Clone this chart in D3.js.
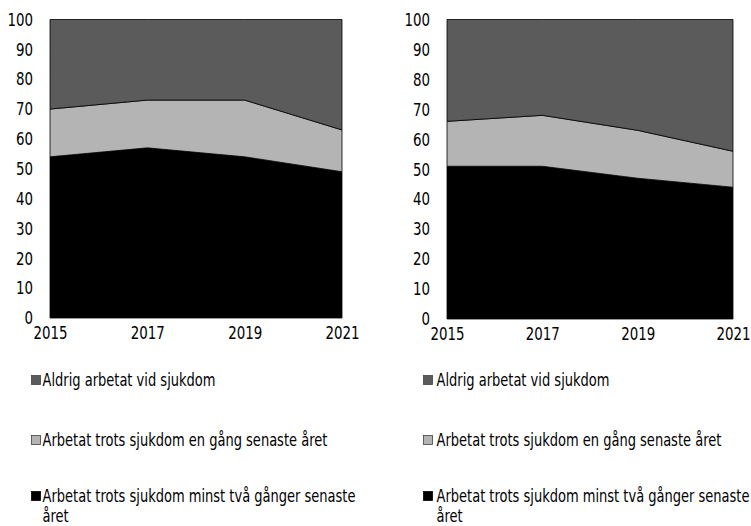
<!DOCTYPE html>
<html lang="sv">
  <head>
    <meta charset="UTF-8" />
    <title>Arbetat trots sjukdom</title>
    <script src="https://d3js.org/d3.v7.min.js"></script>
    <style>
      body { margin: 0; background: #fff; }
      svg text { font-family: "Liberation Sans Narrow", "DejaVu Sans Condensed", "DejaVu Sans", sans-serif; font-stretch: condensed; fill: #000; }
    </style>
  </head>
  <body>
    <div id="chart"></div>
    <script>
      // data
      const years = [2015, 2017, 2019, 2021];
      const seriesKeys = ["flera", "en", "aldrig"];
      const seriesNames = [
        ["Arbetat trots sjukdom minst två gånger senaste", "året"],
        ["Arbetat trots sjukdom en gång senaste året"],
        ["Aldrig arbetat vid sjukdom"]
      ];
      const seriesColors = ["#000000", "#b4b4b4", "#5b5b5b"];
      const yTicks = [0, 10, 20, 30, 40, 50, 60, 70, 80, 90, 100];

      // left panel
      const leftFlera = [54, 57, 54, 49];
      const leftEn = [16, 16, 19, 14];
      const leftAldrig = [30, 27, 27, 37];
      // right panel
      const rightFlera = [51, 51, 47, 44];
      const rightEn = [15, 17, 16, 12];
      const rightAldrig = [34, 32, 37, 44];

      const W = 751, H = 526;
      const svg = d3.select("#chart").append("svg")
        .attr("width", W).attr("height", H);

      // squeeze text horizontally so the fallback font looks condensed like the original
      function measure(str, size) {
        const t = svg.append("text").attr("font-size", size).text(str);
        const w = t.node().getComputedTextLength();
        t.remove();
        return w;
      }
      const tickSize = 18, legSize = 17;
      const tickK = Math.min(1, 34 / measure("2015", tickSize));
      const legK = Math.min(1, 313 / measure(seriesNames[0][0], legSize));
      function condense(sel, k) {
        sel.each(function () {
          const w = this.getComputedTextLength();
          d3.select(this).attr("textLength", w * k).attr("lengthAdjust", "spacingAndGlyphs");
        });
      }

      function rows(a, b, c) {
        return years.map((y, i) => ({ year: y, flera: a[i], en: b[i], aldrig: c[i] }));
      }

      const panels = [
        { data: rows(leftFlera, leftEn, leftAldrig), x0: 50, x1: 342, y0: 318, y1: 19.5, legX: 31.5, textX: 42.5 },
        { data: rows(rightFlera, rightEn, rightAldrig), x0: 447, x1: 733, y0: 319, y1: 19.5, legX: 423.5, textX: 436.5 }
      ];

      const stack = d3.stack().keys(seriesKeys);

      panels.forEach(p => {
        const x = d3.scaleLinear().domain([2015, 2021]).range([p.x0, p.x1]);
        const y = d3.scaleLinear().domain([0, 100]).range([p.y0, p.y1]);
        const g = svg.append("g");

        const area = d3.area()
          .x(d => x(d.data.year))
          .y0(d => y(d[0]))
          .y1(d => y(d[1]));

        g.selectAll("path.layer")
          .data(stack(p.data))
          .enter().append("path")
          .attr("class", "layer")
          .attr("d", area)
          .attr("fill", (d, i) => seriesColors[i])
          .attr("stroke", "#000")
          .attr("stroke-width", 0.8)
          .attr("stroke-linejoin", "round");

        // y axis labels
        const yAxis = d3.axisLeft(y).tickValues(yTicks).tickSize(0).tickPadding(17);
        const ya = g.append("g").attr("transform", `translate(${p.x0},0)`).call(yAxis);
        ya.select(".domain").remove();
        ya.attr("font-family", null).attr("font-size", null);
        ya.selectAll("text").attr("font-size", tickSize).call(condense, tickK);

        // x axis labels
        const xAxis = d3.axisBottom(x).tickValues(years).tickFormat(d3.format("d")).tickSize(0).tickPadding(8);
        const xa = g.append("g").attr("transform", `translate(0,${p.y0})`).call(xAxis);
        xa.select(".domain").remove();
        xa.attr("font-family", null).attr("font-size", null);
        xa.selectAll("text").attr("font-size", tickSize).call(condense, tickK);

        // legend (top to bottom: aldrig, en, flera)
        const legOrder = [2, 1, 0];
        const legY = [380, 440, 496];
        legOrder.forEach((k, j) => {
          const lg = g.append("g").attr("transform", `translate(0,${legY[j]})`);
          lg.append("rect")
            .attr("x", p.legX).attr("y", -4.5)
            .attr("width", 9).attr("height", 9)
            .attr("fill", seriesColors[k])
            .attr("stroke", k === 0 ? "#000" : "#404040")
            .attr("stroke-width", 0.8);
          seriesNames[k].forEach((line, li) => {
            lg.append("text")
              .attr("x", p.textX)
              .attr("y", li * 20)
              .attr("dy", "0.35em")
              .attr("font-size", legSize)
              .text(line)
              .call(condense, legK);
          });
        });
      });
    </script>
  </body>
</html>
